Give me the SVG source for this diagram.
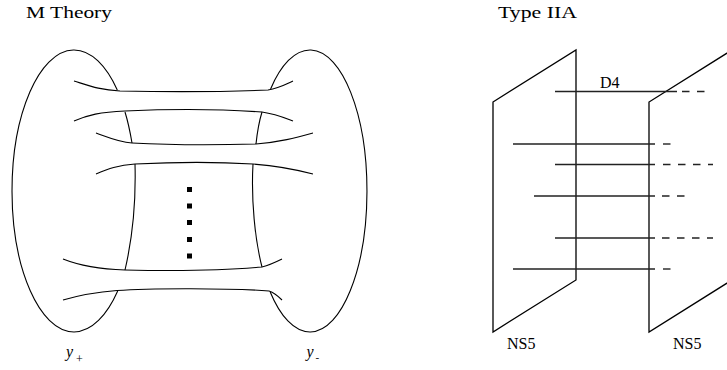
<svg xmlns="http://www.w3.org/2000/svg" width="727" height="370" viewBox="0 0 727 370">
<style>
text{font-family:'Liberation Serif','Times New Roman',Times,serif;fill:#000}
.k{fill:none;stroke:#000;stroke-width:1.1}
.p{fill:none;stroke:#000;stroke-width:1.3;stroke-linejoin:miter}
.b{fill:none;stroke:#222;stroke-width:1.4}
.d{fill:none;stroke:#222;stroke-width:1.4;stroke-dasharray:7.5 7.5}
</style>
<rect width="727" height="370" fill="#fff"/>
<text x="26" y="18" font-family="Liberation Serif, serif" font-size="17" textLength="86" lengthAdjust="spacingAndGlyphs">M Theory</text>
<text x="498" y="18" font-family="Liberation Serif, serif" font-size="17" textLength="79" lengthAdjust="spacingAndGlyphs">Type IIA</text>
<g id="m-theory">
  <path class="k" d="M117.3,90 A62,141 0 1 0 117.7,291"/>
  <path class="k" d="M270.6,89 A57,141 0 1 1 270.2,292"/>
  <path class="k" d="M74,81 C90,86 100,90 120,91 C170,92 220,92 268,90 C280,88 286,84 293,81"/>
  <path class="k" d="M74,121 C88,115 100,112 125,111 C170,109 220,109 262,112 C276,114 285,118 293,121"/>
  <path class="k" d="M96,133 C110,138 118,142 132,143 C170,145 220,145 256,144 C280,142 295,138 313,133"/>
  <path class="k" d="M96,174 C108,169 118,165 135,164 C175,162 220,162 253,164 C280,166 298,170 313,174"/>
  <path class="k" d="M63,259 C78,265 95,269 125,270 C170,271 220,271 262,267 C270,265 276,262 282,259"/>
  <path class="k" d="M63,300 C80,295 98,292 117,290.5 C150,288 230,288 269,291 C275,293 279,297 282,300"/>
  <path class="k" d="M125,112 Q129,125 132,143"/>
  <path class="k" d="M262,112 Q258,125 256,144"/>
  <path class="k" d="M135,164 C136,200 132,240 125,270"/>
  <path class="k" d="M253,164 C251,200 255,240 262,267"/>
  <g fill="#000">
    <rect x="187" y="187" width="5" height="5"/>
    <rect x="187" y="203.5" width="5" height="5"/>
    <rect x="187" y="220" width="5" height="5"/>
    <rect x="187" y="237" width="5" height="5"/>
    <rect x="187" y="253.5" width="5" height="5"/>
  </g>
  <text x="66" y="357" font-family="Liberation Serif, serif" font-size="16" font-style="italic">y</text>
  <text x="76" y="362.5" font-family="Liberation Serif, serif" font-size="12">+</text>
  <text x="306.5" y="357" font-family="Liberation Serif, serif" font-size="16" font-style="italic">y</text>
  <text x="315.5" y="361" font-family="Liberation Serif, serif" font-size="11">-</text>
</g>
<g id="ns5-left">
  <path class="p" d="M493,102 L576,50 L576,280 L493,332 Z"/>
  <text x="507" y="349" font-family="Liberation Serif, serif" font-size="16">NS5</text>
</g>
<g id="ns5-right">
  <path class="p" d="M732,50 L649,102 L649,332 L732,280"/>
  <text x="673" y="349" font-family="Liberation Serif, serif" font-size="16">NS5</text>
</g>
<g id="d4-branes">
  <line class="b" x1="555" y1="91.5" x2="677" y2="91.5"/>
  <line class="d" x1="682" y1="91.5" x2="706" y2="91.5"/>
  <line class="b" x1="513" y1="144" x2="655" y2="144"/>
  <line class="d" x1="663" y1="144" x2="671" y2="144"/>
  <line class="b" x1="555" y1="164.5" x2="655" y2="164.5"/>
  <line class="d" x1="663" y1="164.5" x2="713" y2="164.5"/>
  <line class="b" x1="534" y1="196" x2="655" y2="196"/>
  <line class="d" x1="662" y1="196" x2="686" y2="196"/>
  <line class="b" x1="555" y1="238" x2="655" y2="238"/>
  <line class="d" x1="662" y1="238" x2="713" y2="238"/>
  <line class="b" x1="513" y1="269" x2="655" y2="269"/>
  <line class="d" x1="663" y1="269" x2="671" y2="269"/>
  <text x="600" y="88" font-family="Liberation Serif, serif" font-size="16">D4</text>
</g>
</svg>
